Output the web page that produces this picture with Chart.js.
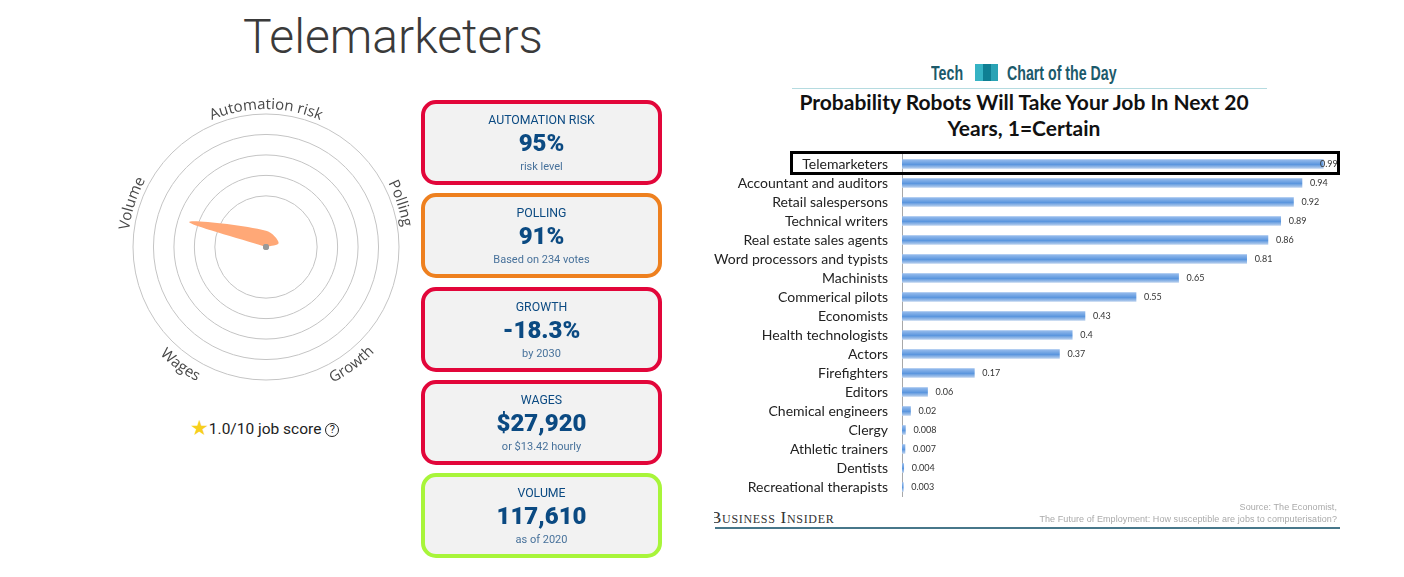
<!DOCTYPE html>
<html>
<head>
<meta charset="utf-8">
<title>Telemarketers</title>
<script src="https://cdn.jsdelivr.net/npm/chart.js@4"></script>
<style>
  html, body { margin: 0; background: #fff; }
  body { position: relative; width: 1404px; height: 577px; overflow: hidden; font-family: Roboto, sans-serif; }
  .abs { position: absolute; white-space: nowrap; }
  #title { left: 243px; top: 8px; font-size: 48px; font-weight: 300; color: #3a3a3a; line-height: 58px; }
  #radarWrap { position: absolute; left: 106px; top: 87px; width: 320px; height: 320px; }
  #barsWrap { position: absolute; left: 714px; top: 150px; width: 630px; height: 352px; }
  #score { left: 190px; top: 418px; font-size: 15.5px; line-height: 22px; color: #222; }
  #score .star { color: #f7cf1d; font-size: 21px; font-family: "DejaVu Sans"; line-height: 20px; vertical-align: -1px; }
  #score .help { display: inline-block; width: 12px; height: 12px; line-height: 12px; border: 1.5px solid #222; border-radius: 50%; font-size: 11px; text-align: center; vertical-align: 1px; }
  .card { position: absolute; left: 421px; width: 233px; height: 77px; border: 4px solid; border-radius: 15px; background: #f2f2f2; text-align: center; color: #0b4a82; }
  .card div { position: absolute; left: 0; right: 0; white-space: nowrap; }
  .card .head { top: 9px; font-size: 12.3px; line-height: 14px; }
  .card .val { top: 25px; font-size: 24px; font-weight: 900; line-height: 28px; }
  .card .note { top: 56px; font-size: 11px; line-height: 14px; color: #48729b; }
  .teal { top: 61px; font: 700 20px "Liberation Sans", sans-serif; color: #1c5a6b; line-height: 24px; transform: scaleX(.71); transform-origin: left; }
  #logo { position: absolute; left: 975px; top: 64px; width: 23px; height: 17px; background: linear-gradient(90deg, #36b3c4 0 35%, #0f7f93 35% 70%, #2aa3b5 70%); }
  #rule { position: absolute; left: 792px; top: 88px; width: 475px; height: 1px; background: #b5dbe0; }
  .heading { left: 714px; width: 620px; text-align: center; font: 700 21px Lato, sans-serif; color: #111; line-height: 26px; }
  #box { position: absolute; left: 790px; top: 151px; width: 544px; height: 18px; border: 3px solid #000; }
  #insiderClip { position: absolute; left: 714px; top: 509px; width: 122px; height: 18px; overflow: hidden; }
  #insider { position: absolute; left: -4px; top: 0; font: 17px "Liberation Serif", serif; font-variant: small-caps; color: #333; line-height: 18px; white-space: nowrap; letter-spacing: .7px; }
  .src { right: 67px; font: 9px "Liberation Sans", sans-serif; color: #aaa; line-height: 12px; letter-spacing: .07px; }
  #footRule { position: absolute; left: 715px; top: 527px; width: 625px; height: 2px; background: #47778a; }
</style>
</head>
<body>
<div id="title" class="abs">Telemarketers</div>
<div id="radarWrap"><canvas id="radar"></canvas></div>
<div id="score" class="abs"><span class="star">★</span>1.0/10 job score <span class="help">?</span></div>
<div id="cards"></div>

<div class="abs teal" style="left:931px">Tech</div>
<div id="logo"></div>
<div class="abs teal" style="left:1007px">Chart of the Day</div>
<div id="rule"></div>
<div class="abs heading" style="top:89px">Probability Robots Will Take Your Job In Next 20</div>
<div class="abs heading" style="top:115px">Years, 1=Certain</div>
<div id="barsWrap"><canvas id="bars"></canvas></div>
<div id="box"></div>
<div id="insiderClip"><div id="insider">Business Insider</div></div>
<div class="abs src" style="top:501px">Source: The Economist,</div>
<div class="abs src" style="top:513px">The Future of Employment: How susceptible are jobs to computerisation?</div>
<div id="footRule"></div>

<script>
// left chart
const radarLabels = ['Automation risk', 'Polling', 'Growth', 'Wages', 'Volume'];
const radarValues = [16, 13, 0, 0, 79];
// chart.js never draws the first tick as a ring, so 30 is only a placeholder
const radarRings = [30, 50, 70, 90, 110, 130];

// score cards
const cardTitles = ['AUTOMATION RISK', 'POLLING', 'GROWTH', 'WAGES', 'VOLUME'];
const cardValues = ['95%', '91%', '-18.3%', '$27,920', '117,610'];
const cardNotes = ['risk level', 'Based on 234 votes', 'by 2030', 'or $13.42 hourly', 'as of 2020'];
const cardColors = ['#e2063a', '#ee801f', '#e2063a', '#e2063a', '#a8f53a'];
const cardTops = [100, 193, 287, 380, 473];

// right chart
const jobs = ['Telemarketers', 'Accountant and auditors', 'Retail salespersons', 'Technical writers',
  'Real estate sales agents', 'Word processors and typists', 'Machinists', 'Commerical pilots',
  'Economists', 'Health technologists', 'Actors', 'Firefighters', 'Editors', 'Chemical engineers',
  'Clergy', 'Athletic trainers', 'Dentists', 'Recreational therapists'];
const probabilities = [0.99, 0.94, 0.92, 0.89, 0.86, 0.81, 0.65, 0.55, 0.43, 0.4, 0.37, 0.17, 0.06,
  0.02, 0.008, 0.007, 0.004, 0.003];

const cardsEl = document.getElementById('cards');
cardTitles.forEach(function(t, i) {
  const c = document.createElement('div');
  c.className = 'card';
  c.style.top = cardTops[i] + 'px';
  c.style.borderColor = cardColors[i];
  c.innerHTML = '<div class="head">' + t + '</div><div class="val">' + cardValues[i] +
    '</div><div class="note">' + cardNotes[i] + '</div>';
  cardsEl.appendChild(c);
});

// point labels follow the outer ring, the lower ones are flipped to stay readable
const curvedLabels = {
  id: 'curvedLabels',
  afterDraw(chart) {
    const scale = chart.scales.r;
    const ctx = chart.ctx;
    ctx.save();
    ctx.font = '15px "Open Sans"';
    ctx.fillStyle = '#484848';
    ctx.textAlign = 'center';
    ctx.textBaseline = 'alphabetic';
    radarLabels.forEach(function(label, i) {
      const angle = scale.getIndexAngle(i);
      const flip = Math.cos(angle) < 0;
      const radius = flip ? 151 : 138;
      const total = ctx.measureText(label).width;
      const dir = flip ? -1 : 1;
      let run = -total / 2;
      for (const ch of label) {
        const w = ctx.measureText(ch).width;
        const a = angle + dir * (run + w / 2) / radius;
        ctx.save();
        ctx.translate(scale.xCenter + Math.sin(a) * radius, scale.yCenter - Math.cos(a) * radius);
        ctx.rotate(flip ? a + Math.PI : a);
        ctx.fillText(ch, 0, 0);
        ctx.restore();
        run += w;
      }
    });
    ctx.restore();
  }
};

new Chart(document.getElementById('radar').getContext('2d'), {
  type: 'radar',
  data: {
    labels: radarLabels,
    datasets: [{
      data: radarValues,
      backgroundColor: '#ffa877',
      borderColor: '#ffa877',
      borderWidth: 0,
      fill: true,
      tension: 0.35,
      pointRadius: [0, 0, 3, 3, 0],
      pointBackgroundColor: '#999',
      pointBorderWidth: 0
    }]
  },
  options: {
    responsive: true,
    maintainAspectRatio: false,
    animation: false,
    layout: { padding: 26.5 },
    plugins: { legend: { display: false }, tooltip: { enabled: false } },
    scales: {
      r: {
        min: 0,
        max: 130,
        afterBuildTicks(axis) {
          axis.ticks = radarRings.map(function(v) { return { value: v }; });
        },
        ticks: { display: false },
        grid: { circular: true, color: '#c4c4c4', lineWidth: 1 },
        angleLines: { display: false },
        pointLabels: { display: false }
      }
    }
  },
  plugins: [curvedLabels]
});

// value next to each bar, kept inside the box on the longest one
const barValues = {
  id: 'barValues',
  afterDatasetsDraw(chart) {
    const ctx = chart.ctx;
    const meta = chart.getDatasetMeta(0);
    ctx.save();
    ctx.font = '9px Lato';
    ctx.fillStyle = '#333';
    ctx.textBaseline = 'middle';
    meta.data.forEach(function(bar, i) {
      const x = Math.min(bar.x + 8, chart.chartArea.right - 7.5);
      ctx.fillText(String(probabilities[i]), x, bar.y);
    });
    ctx.restore();
  }
};

new Chart(document.getElementById('bars').getContext('2d'), {
  type: 'bar',
  data: {
    labels: jobs,
    datasets: [{
      data: probabilities,
      barThickness: 9,
      backgroundColor(context) {
        const chart = context.chart;
        const y = chart.scales.y ? chart.scales.y.getPixelForValue(context.dataIndex) : NaN;
        if (!Number.isFinite(y)) return '#5f9ae0';
        const g = chart.ctx.createLinearGradient(0, y - 5, 0, y + 5);
        g.addColorStop(0, '#9dc0ee');
        g.addColorStop(0.55, '#5b96de');
        g.addColorStop(1, '#c3d6ef');
        return g;
      }
    }]
  },
  options: {
    indexAxis: 'y',
    responsive: true,
    maintainAspectRatio: false,
    animation: false,
    layout: { padding: { top: 4.5, bottom: 5.5, right: 16.5, left: 0 } },
    plugins: { legend: { display: false }, tooltip: { enabled: false } },
    scales: {
      x: { min: 0, max: 1, display: false },
      y: {
        // tick padding would otherwise also eat into the plot height
        afterFit(axis) { axis.width = 188; axis.paddingTop = 0; axis.paddingBottom = 0; },
        grid: { drawOnChartArea: false, tickLength: 0 },
        border: { color: '#a8a8a8' },
        ticks: {
          padding: 14,
          autoSkip: false,
          color: '#222',
          font: { family: 'Lato', size: 14 }
        }
      }
    }
  },
  plugins: [barValues]
});
</script>
</body>
</html>
